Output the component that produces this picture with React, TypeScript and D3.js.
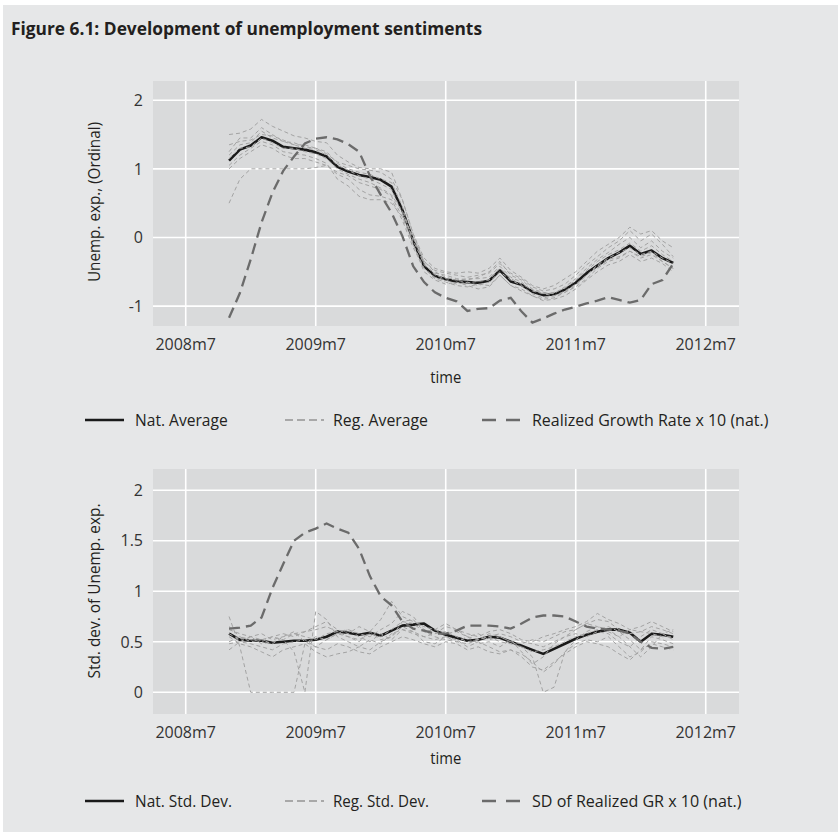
import React, { useEffect, useRef } from 'react';
import * as d3 from 'd3';

// time axis: months counted from 2008m7 (= 0); observations run 2008m11 .. 2012m4
const firstMonth = 4;
const xTicks = [0, 12, 24, 36, 48];
const xTickLabels = ['2008m7', '2009m7', '2010m7', '2011m7', '2012m7'];

// ---- upper panel: unemployment expectations
const natAverage = [1.12, 1.28, 1.34, 1.46, 1.41, 1.32, 1.30, 1.28, 1.24, 1.18, 1.03, 0.96, 0.91, 0.88, 0.84, 0.74, 0.40, -0.05, -0.42, -0.56, -0.61, -0.64, -0.65, -0.66, -0.63, -0.48, -0.64, -0.69, -0.79, -0.84, -0.83, -0.76, -0.66, -0.52, -0.41, -0.30, -0.22, -0.12, -0.24, -0.19, -0.30, -0.37];
const growthRate = [-1.17, -0.81, -0.32, 0.22, 0.65, 0.97, 1.18, 1.37, 1.44, 1.46, 1.43, 1.36, 1.25, 0.90, 0.62, 0.36, 0.02, -0.42, -0.65, -0.80, -0.88, -0.93, -1.07, -1.04, -1.03, -0.92, -0.88, -1.08, -1.24, -1.18, -1.11, -1.05, -1.01, -0.96, -0.92, -0.87, -0.91, -0.95, -0.91, -0.68, -0.62, -0.38];
const regAvg1 = [1.50, 1.52, 1.58, 1.72, 1.62, 1.55, 1.48, 1.45, 1.40, 1.38, 1.20, 1.10, 1.02, 1.00, 1.00, 0.95, 0.55, 0.05, -0.30, -0.45, -0.50, -0.52, -0.50, -0.52, -0.45, -0.30, -0.48, -0.58, -0.70, -0.75, -0.70, -0.60, -0.50, -0.35, -0.20, -0.10, 0.00, 0.15, 0.05, 0.10, -0.05, -0.15];
const regAvg2 = [0.50, 0.85, 1.00, 1.00, 1.00, 1.00, 1.00, 1.00, 1.02, 1.05, 0.95, 0.90, 0.80, 0.75, 0.70, 0.60, 0.30, -0.10, -0.45, -0.60, -0.65, -0.70, -0.72, -0.68, -0.70, -0.55, -0.70, -0.78, -0.85, -0.90, -0.88, -0.80, -0.72, -0.60, -0.45, -0.35, -0.30, -0.20, -0.30, -0.25, -0.35, -0.45];
const regAvg3 = [1.05, 1.20, 1.30, 1.40, 1.35, 1.25, 1.22, 1.20, 1.15, 1.08, 0.85, 0.75, 0.60, 0.55, 0.55, 0.50, 0.30, 0.00, -0.35, -0.50, -0.58, -0.62, -0.60, -0.60, -0.58, -0.42, -0.58, -0.65, -0.78, -0.82, -0.85, -0.78, -0.68, -0.55, -0.40, -0.30, -0.22, -0.15, -0.25, -0.20, -0.30, -0.38];
const regAvg4 = [1.20, 1.35, 1.38, 1.55, 1.45, 1.40, 1.38, 1.32, 1.30, 1.25, 1.08, 1.00, 0.95, 0.92, 0.85, 0.80, 0.45, -0.10, -0.50, -0.62, -0.68, -0.65, -0.70, -0.75, -0.72, -0.55, -0.70, -0.75, -0.85, -0.92, -0.90, -0.85, -0.75, -0.62, -0.50, -0.40, -0.35, -0.25, -0.35, -0.30, -0.38, -0.50];
const regAvg5 = [1.35, 1.40, 1.42, 1.50, 1.48, 1.42, 1.35, 1.30, 1.28, 1.20, 1.05, 0.98, 0.90, 0.85, 0.78, 0.70, 0.35, 0.00, -0.40, -0.52, -0.55, -0.60, -0.62, -0.58, -0.50, -0.35, -0.55, -0.62, -0.75, -0.80, -0.82, -0.72, -0.60, -0.45, -0.32, -0.22, -0.10, 0.00, -0.15, -0.05, -0.20, -0.30];
const regAvg6 = [1.00, 1.15, 1.25, 1.35, 1.30, 1.20, 1.15, 1.15, 1.10, 1.05, 0.92, 0.85, 0.70, 0.62, 0.60, 0.55, 0.25, -0.15, -0.45, -0.58, -0.62, -0.68, -0.65, -0.70, -0.65, -0.50, -0.62, -0.70, -0.82, -0.88, -0.85, -0.80, -0.70, -0.55, -0.42, -0.32, -0.28, -0.20, -0.28, -0.22, -0.35, -0.45];
const regAvg7 = [1.15, 1.30, 1.32, 1.45, 1.38, 1.30, 1.30, 1.25, 1.22, 1.15, 1.00, 0.92, 0.85, 0.80, 0.72, 0.62, 0.38, -0.05, -0.38, -0.55, -0.60, -0.62, -0.66, -0.64, -0.62, -0.45, -0.60, -0.68, -0.76, -0.82, -0.80, -0.74, -0.62, -0.48, -0.35, -0.25, -0.18, -0.08, -0.20, -0.12, -0.25, -0.35];
const regAvg8 = [1.25, 1.45, 1.45, 1.60, 1.50, 1.40, 1.35, 1.35, 1.30, 1.22, 1.10, 1.05, 1.00, 0.98, 0.95, 0.85, 0.55, 0.05, -0.35, -0.48, -0.52, -0.55, -0.58, -0.55, -0.52, -0.38, -0.52, -0.60, -0.72, -0.78, -0.75, -0.68, -0.55, -0.40, -0.28, -0.15, -0.05, 0.10, -0.05, 0.05, -0.10, -0.28];
const topTicks = [-1, 0, 1, 2];

// ---- lower panel: dispersion
const natSD = [0.58, 0.52, 0.51, 0.51, 0.49, 0.50, 0.51, 0.51, 0.52, 0.55, 0.60, 0.59, 0.57, 0.59, 0.56, 0.61, 0.66, 0.67, 0.68, 0.61, 0.57, 0.54, 0.51, 0.52, 0.55, 0.54, 0.50, 0.46, 0.42, 0.38, 0.43, 0.48, 0.53, 0.57, 0.60, 0.62, 0.62, 0.59, 0.50, 0.58, 0.57, 0.55];
const sdGrowth = [0.63, 0.64, 0.66, 0.74, 1.03, 1.27, 1.50, 1.58, 1.62, 1.67, 1.62, 1.58, 1.42, 1.15, 0.95, 0.86, 0.70, 0.63, 0.61, 0.58, 0.58, 0.61, 0.66, 0.66, 0.66, 0.65, 0.63, 0.68, 0.74, 0.76, 0.76, 0.75, 0.70, 0.65, 0.63, 0.62, 0.61, 0.58, 0.50, 0.44, 0.43, 0.45];
const regSD1 = [0.75, 0.45, 0.00, 0.00, 0.00, 0.00, 0.00, 0.48, 0.55, 0.52, 0.58, 0.55, 0.50, 0.60, 0.52, 0.55, 0.70, 0.72, 0.60, 0.55, 0.52, 0.50, 0.48, 0.52, 0.55, 0.50, 0.48, 0.45, 0.40, 0.42, 0.45, 0.50, 0.55, 0.58, 0.62, 0.65, 0.60, 0.52, 0.42, 0.55, 0.52, 0.48];
const regSD2 = [0.42, 0.50, 0.55, 0.48, 0.50, 0.52, 0.40, 0.00, 0.80, 0.72, 0.55, 0.50, 0.45, 0.52, 0.48, 0.58, 0.62, 0.60, 0.55, 0.58, 0.60, 0.55, 0.50, 0.52, 0.58, 0.55, 0.50, 0.45, 0.35, 0.00, 0.05, 0.40, 0.52, 0.60, 0.65, 0.62, 0.55, 0.45, 0.35, 0.45, 0.58, 0.52];
const regSD3 = [0.55, 0.48, 0.45, 0.40, 0.35, 0.42, 0.45, 0.48, 0.40, 0.35, 0.38, 0.40, 0.45, 0.42, 0.50, 0.55, 0.65, 0.60, 0.50, 0.48, 0.55, 0.52, 0.45, 0.50, 0.45, 0.40, 0.42, 0.38, 0.30, 0.20, 0.28, 0.40, 0.48, 0.52, 0.50, 0.55, 0.45, 0.35, 0.40, 0.50, 0.48, 0.45];
const regSD4 = [0.62, 0.58, 0.55, 0.52, 0.55, 0.58, 0.55, 0.60, 0.65, 0.70, 0.62, 0.58, 0.65, 0.60, 0.72, 0.90, 0.75, 0.70, 0.65, 0.62, 0.58, 0.60, 0.55, 0.52, 0.55, 0.58, 0.55, 0.50, 0.48, 0.45, 0.50, 0.55, 0.62, 0.68, 0.72, 0.70, 0.62, 0.58, 0.60, 0.65, 0.62, 0.58];
const regSD5 = [0.50, 0.55, 0.52, 0.50, 0.55, 0.52, 0.58, 0.60, 0.62, 0.65, 0.60, 0.62, 0.58, 0.55, 0.62, 0.68, 0.80, 0.75, 0.62, 0.58, 0.65, 0.62, 0.58, 0.55, 0.60, 0.62, 0.58, 0.52, 0.50, 0.55, 0.58, 0.62, 0.65, 0.70, 0.78, 0.72, 0.68, 0.62, 0.65, 0.70, 0.65, 0.60];
const regSD6 = [0.48, 0.50, 0.48, 0.45, 0.42, 0.48, 0.50, 0.52, 0.45, 0.42, 0.48, 0.45, 0.40, 0.38, 0.45, 0.50, 0.55, 0.52, 0.48, 0.45, 0.50, 0.48, 0.42, 0.45, 0.40, 0.38, 0.42, 0.35, 0.25, 0.22, 0.30, 0.38, 0.45, 0.50, 0.48, 0.45, 0.38, 0.32, 0.42, 0.48, 0.45, 0.42];
const regSD7 = [0.58, 0.52, 0.55, 0.58, 0.52, 0.55, 0.58, 0.55, 0.52, 0.58, 0.60, 0.55, 0.52, 0.58, 0.55, 0.62, 0.70, 0.68, 0.60, 0.62, 0.68, 0.62, 0.55, 0.58, 0.52, 0.55, 0.50, 0.48, 0.52, 0.50, 0.55, 0.60, 0.62, 0.68, 0.65, 0.60, 0.55, 0.62, 0.60, 0.58, 0.55, 0.55];
const regSD8 = [0.65, 0.55, 0.50, 0.52, 0.48, 0.55, 0.60, 0.50, 0.45, 0.52, 0.58, 0.62, 0.55, 0.50, 0.58, 0.52, 0.62, 0.58, 0.55, 0.52, 0.55, 0.50, 0.55, 0.48, 0.50, 0.45, 0.52, 0.40, 0.28, 0.35, 0.48, 0.55, 0.58, 0.55, 0.60, 0.58, 0.50, 0.45, 0.55, 0.62, 0.58, 0.62];
const bottomTicks = [0, 0.5, 1, 1.5, 2];

const topLegend = ['Nat. Average', 'Reg. Average', 'Realized Growth Rate x 10 (nat.)'];
const bottomLegend = ['Nat. Std. Dev.', 'Reg. Std. Dev.', 'SD of Realized GR x 10 (nat.)'];

const W = 838, H = 834;
const font = "'Open Sans', 'DejaVu Sans', sans-serif";
const ink = '#231f20';

function drawPanel(svg, p) {
  const left = 153, right = 739;
  const x = d3.scaleLinear().domain([-3.02, 51.07]).range([left, right]);
  const y = d3.scaleLinear().domain(p.yDomain).range([p.bottom, p.top]);
  const g = svg.append('g');

  g.append('rect').attr('x', left).attr('y', p.top)
    .attr('width', right - left).attr('height', p.bottom - p.top).attr('fill', '#d9dadb');

  g.selectAll('.hgrid').data(p.ticks).join('line').attr('class', 'hgrid')
    .attr('x1', left).attr('x2', right).attr('y1', d => y(d)).attr('y2', d => y(d))
    .attr('stroke', '#fff').attr('stroke-width', 1.6);
  g.selectAll('.vgrid').data(xTicks).join('line').attr('class', 'vgrid')
    .attr('x1', d => x(d)).attr('x2', d => x(d)).attr('y1', p.top).attr('y2', p.bottom)
    .attr('stroke', '#fff').attr('stroke-width', 1.6);

  // tick labels
  g.selectAll('.ylab').data(p.ticks).join('text').attr('class', 'ylab')
    .attr('x', 143).attr('y', d => y(d)).attr('dy', '0.36em')
    .attr('text-anchor', 'end').attr('font-size', 16).attr('fill', '#333')
    .text(d => String(d));
  g.selectAll('.xlab').data(xTicks).join('text').attr('class', 'xlab')
    .attr('x', d => x(d)).attr('y', p.bottom + 24)
    .attr('text-anchor', 'middle').attr('font-size', 16).attr('fill', '#333')
    .text((d, i) => xTickLabels[i]);

  const line = d3.line<number>().x((d, i) => x(firstMonth + i)).y(d => y(d));

  g.append('path').attr('d', line(p.nat)).attr('fill', 'none')
    .attr('stroke', '#1a1a1a').attr('stroke-width', 2.6).attr('stroke-linejoin', 'round');
  g.selectAll('.reg').data(p.reg).join('path').attr('class', 'reg')
    .attr('d', d => line(d)).attr('fill', 'none')
    .attr('stroke', '#a3a3a3').attr('stroke-width', 1).attr('stroke-dasharray', '4,3');
  g.append('path').attr('d', line(p.gr)).attr('fill', 'none')
    .attr('stroke', '#6b6b6b').attr('stroke-width', 2.3).attr('stroke-dasharray', '11,6');

  // axis titles
  g.append('text').text(p.yTitle)
    .attr('transform', `translate(100, ${p.yMid}) rotate(-90)`)
    .attr('text-anchor', 'middle').attr('font-size', 16).attr('fill', ink)
    .attr('textLength', p.yTitleLen).attr('lengthAdjust', 'spacingAndGlyphs');
  g.append('text').text('time')
    .attr('x', x(24)).attr('y', p.timeY).attr('text-anchor', 'middle')
    .attr('font-size', 16).attr('fill', ink)
    .attr('textLength', 31).attr('lengthAdjust', 'spacingAndGlyphs');

  // legend
  const keyX = [85, 285, 482];
  const textX = [135, 333, 532];
  const styles = [
    { c: '#1a1a1a', w: 2.6, dash: null },
    { c: '#a8a8a8', w: 2, dash: '8,4' },
    { c: '#6b6b6b', w: 2.5, dash: '14,10' },
  ];
  p.legend.forEach((name, i) => {
    g.append('line').attr('x1', keyX[i]).attr('x2', keyX[i] + 39)
      .attr('y1', p.legendY).attr('y2', p.legendY)
      .attr('stroke', styles[i].c).attr('stroke-width', styles[i].w)
      .attr('stroke-dasharray', styles[i].dash);
    g.append('text').text(name).attr('x', textX[i]).attr('y', p.legendY + 6)
      .attr('font-size', 17).attr('fill', ink)
      .attr('textLength', p.legendLen[i]).attr('lengthAdjust', 'spacingAndGlyphs');
  });
}

export default function App() {
  const ref = useRef<SVGSVGElement>(null);

  useEffect(() => {
    const svg = d3.select(ref.current);
    svg.selectAll('*').remove();
    svg.attr('font-family', font);

    svg.append('rect').attr('width', W).attr('height', H).attr('fill', '#fff');
    svg.append('rect').attr('x', 3).attr('y', 5).attr('width', W - 3).attr('height', 827).attr('fill', '#e6e7e8');

    svg.append('text').text('Figure 6.1: Development of unemployment sentiments')
      .attr('x', 11).attr('y', 35).attr('font-size', 18).attr('font-weight', 'bold').attr('fill', ink)
      .attr('textLength', 471).attr('lengthAdjust', 'spacingAndGlyphs');

    drawPanel(svg, {
      top: 81, bottom: 326, yDomain: [-1.29, 2.28], ticks: topTicks,
      nat: natAverage, gr: growthRate,
      reg: [regAvg1, regAvg2, regAvg3, regAvg4, regAvg5, regAvg6, regAvg7, regAvg8],
      yTitle: 'Unemp. exp., (Ordinal)', yMid: 202, yTitleLen: 160,
      timeY: 383, legendY: 420, legend: topLegend, legendLen: [92.7, 95, 236.4],
    });
    drawPanel(svg, {
      top: 469, bottom: 714, yDomain: [-0.215, 2.21], ticks: bottomTicks,
      nat: natSD, gr: sdGrowth,
      reg: [regSD1, regSD2, regSD3, regSD4, regSD5, regSD6, regSD7, regSD8],
      yTitle: 'Std. dev. of Unemp. exp.', yMid: 591, yTitleLen: 175,
      timeY: 764, legendY: 801, legend: bottomLegend, legendLen: [97, 96, 209.5],
    });
  }, []);

  return (
    <svg ref={ref} width={W} height={H}
      style={{ position: 'absolute', left: 0, top: 0, display: 'block' }} />
  );
}
